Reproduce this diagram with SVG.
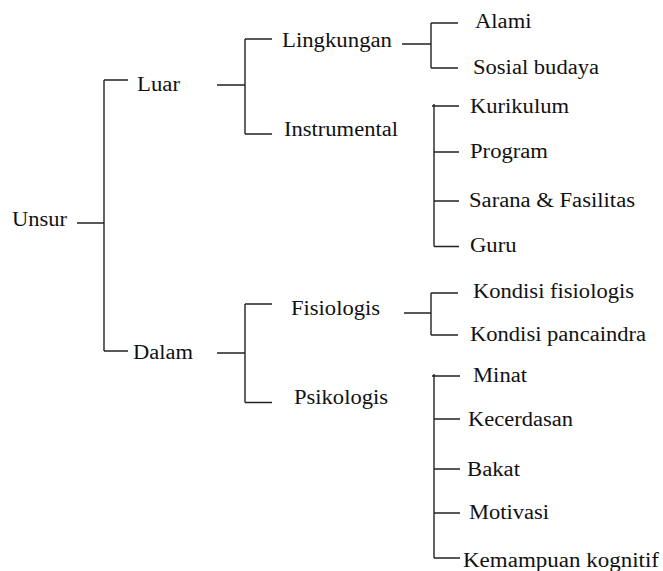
<svg xmlns="http://www.w3.org/2000/svg" width="663" height="571" viewBox="0 0 663 571">
<style>
.t text{font-family:'Liberation Serif','DejaVu Serif',serif;font-size:20px;fill:#111;}
.c path{fill:none;stroke:#222;stroke-width:1.4;}
</style>
<rect width="663" height="571" fill="#fff"/>
<g class="c" id="connectors">
<path d="M77,223H104M104,80V351M104,80H128M104,351H128"/>
<path d="M217,85H245M245,39V134M245,39H272M245,134H272"/>
<path d="M402,44H431M431,23V68M431,23H458M431,68H458"/>
<path d="M434,104V246.5M432,106H459M434,152H459M434,201H459M434,246.5H459"/>
<path d="M217,353H245M245,304V402.5M245,304H272M245,402.5H272"/>
<path d="M404,313H431M431,293V335M431,293H458M431,335H458"/>
<path d="M434,374V558M432,376H460M434,419H460M434,469H460M434,513H460M434,558H460"/>
</g>
<g class="t">
<g id="unsur"><text x="12" y="225.5" textLength="55" lengthAdjust="spacingAndGlyphs">Unsur</text></g>
<g id="luar"><text x="137" y="91" textLength="43" lengthAdjust="spacingAndGlyphs">Luar</text></g>
<g id="dalam"><text x="133" y="359" textLength="60" lengthAdjust="spacingAndGlyphs">Dalam</text></g>
<g id="lingkungan"><text x="282" y="47" textLength="110" lengthAdjust="spacingAndGlyphs">Lingkungan</text></g>
<g id="instrumental"><text x="284" y="135.5" textLength="114" lengthAdjust="spacingAndGlyphs">Instrumental</text></g>
<g id="fisiologis"><text x="291" y="315" textLength="89" lengthAdjust="spacingAndGlyphs">Fisiologis</text></g>
<g id="psikologis"><text x="294" y="404" textLength="94" lengthAdjust="spacingAndGlyphs">Psikologis</text></g>
<g id="alami"><text x="475" y="28" textLength="56.5" lengthAdjust="spacingAndGlyphs">Alami</text></g>
<g id="sosial-budaya"><text x="473" y="73.5" textLength="126" lengthAdjust="spacingAndGlyphs">Sosial budaya</text></g>
<g id="kurikulum"><text x="470" y="113" textLength="99" lengthAdjust="spacingAndGlyphs">Kurikulum</text></g>
<g id="program"><text x="470" y="158" textLength="78" lengthAdjust="spacingAndGlyphs">Program</text></g>
<g id="sarana"><text x="469" y="207" textLength="166" lengthAdjust="spacingAndGlyphs">Sarana &amp; Fasilitas</text></g>
<g id="guru"><text x="470" y="252" textLength="46.5" lengthAdjust="spacingAndGlyphs">Guru</text></g>
<g id="kondisi-fisiologis"><text x="473" y="298" textLength="161" lengthAdjust="spacingAndGlyphs">Kondisi fisiologis</text></g>
<g id="kondisi-pancaindra"><text x="470" y="341" textLength="176" lengthAdjust="spacingAndGlyphs">Kondisi pancaindra</text></g>
<g id="minat"><text x="473" y="382" textLength="54" lengthAdjust="spacingAndGlyphs">Minat</text></g>
<g id="kecerdasan"><text x="468" y="426" textLength="105" lengthAdjust="spacingAndGlyphs">Kecerdasan</text></g>
<g id="bakat"><text x="467" y="476" textLength="53" lengthAdjust="spacingAndGlyphs">Bakat</text></g>
<g id="motivasi"><text x="469" y="519" textLength="80" lengthAdjust="spacingAndGlyphs">Motivasi</text></g>
<g id="kemampuan-kognitif"><text x="463" y="567" textLength="196" lengthAdjust="spacingAndGlyphs">Kemampuan kognitif</text></g>
</g>
</svg>
